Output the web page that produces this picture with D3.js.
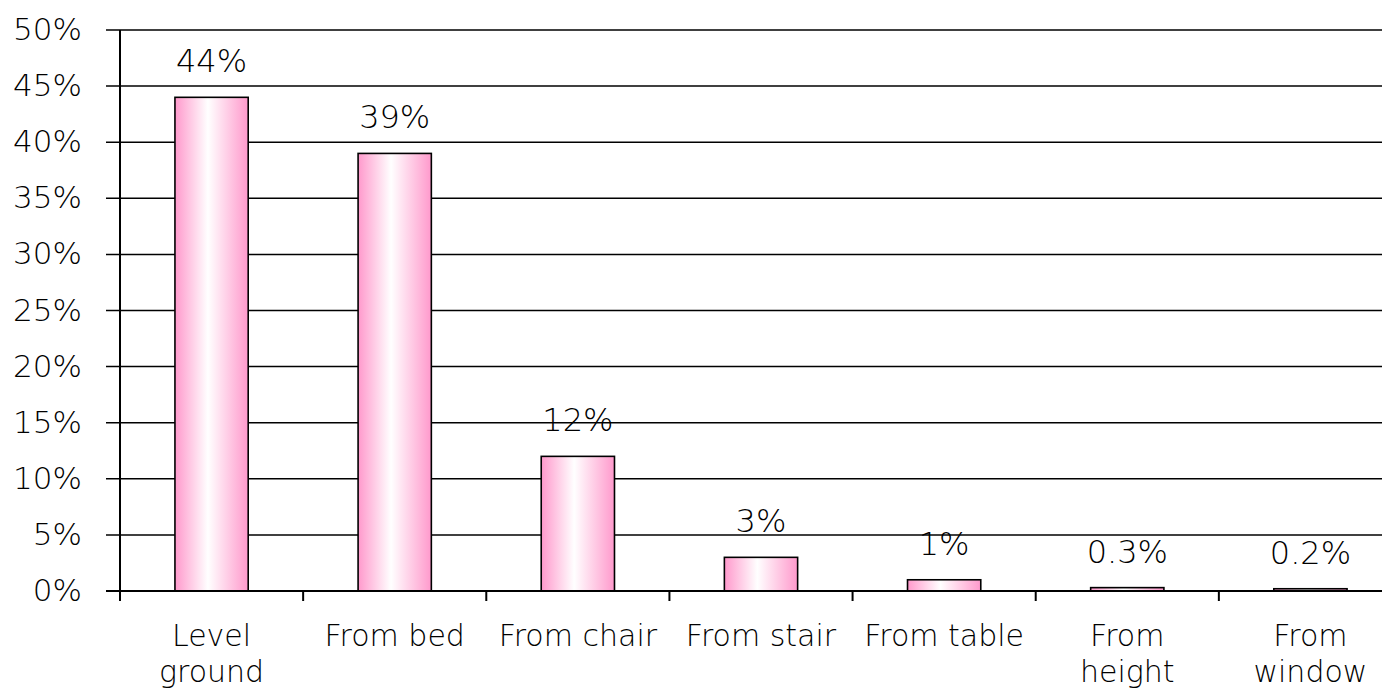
<!DOCTYPE html>
<html lang="en">
<head>
    <meta charset="UTF-8">
    <title>Falls by type</title>
    <script src="https://d3js.org/d3.v7.min.js"></script>
    <style>
        body { margin: 0; background: #fff; }
        text { font-family: "Century Gothic", "DejaVu Sans", sans-serif; font-weight: 200; fill: #000; }
        .grid line { stroke: #000; stroke-width: 1.5px; }
        .bar { stroke: #000; stroke-width: 1.6px; }
    </style>
</head>
<body>
    <svg width="1382" height="688"></svg>

    <script>
        const categories = [["Level", "ground"], ["From bed"], ["From chair"], ["From stair"], ["From table"], ["From", "height"], ["From", "window"]];
        const values = [44, 39, 12, 3, 1, 0.3, 0.2];
        const valueLabels = ["44%", "39%", "12%", "3%", "1%", "0.3%", "0.2%"];
        const yTicks = [0, 5, 10, 15, 20, 25, 30, 35, 40, 45, 50];

        const svg = d3.select("svg");
        const mLeft = 120, mRight = 1402, mTop = 30, mBottom = 591;

        const x = d3.scaleBand()
            .domain(d3.range(values.length))
            .range([mLeft, mRight])
            .paddingInner(0.6)
            .paddingOuter(0.3);
        const y = d3.scaleLinear().domain([0, 50]).range([mBottom, mTop]);

        // gradient pink - white - pink
        const grad = svg.append("defs").append("linearGradient")
            .attr("id", "pinkGrad").attr("x1", "0%").attr("x2", "100%").attr("y1", "0%").attr("y2", "0%");
        grad.append("stop").attr("offset", "0%").attr("stop-color", "#ff99cc");
        grad.append("stop").attr("offset", "45%").attr("stop-color", "#ffffff");
        grad.append("stop").attr("offset", "100%").attr("stop-color", "#ff99cc");

        // gridlines
        svg.append("g").attr("class", "grid")
            .selectAll("line")
            .data(yTicks.filter(d => d > 0))
            .join("line")
            .attr("x1", mLeft - 14).attr("x2", mRight)
            .attr("y1", d => y(d)).attr("y2", d => y(d));

        // y tick labels
        svg.append("g").selectAll("text")
            .data(yTicks)
            .join("text")
            .attr("x", 82)
            .attr("y", d => y(d) + 10)
            .attr("text-anchor", "end")
            .style("font-size", "31px")
            .text(d => d + "%");

        // bars
        svg.selectAll(".bar")
            .data(values)
            .join("rect")
            .attr("class", "bar")
            .attr("x", (d, i) => x(i))
            .attr("width", x.bandwidth())
            .attr("y", d => y(d))
            .attr("height", d => mBottom - y(d))
            .attr("fill", "url(#pinkGrad)");

        // value labels
        svg.selectAll(".val")
            .data(values)
            .join("text")
            .attr("class", "val")
            .attr("x", (d, i) => x(i) + x.bandwidth() / 2)
            .attr("y", d => y(d) - 25)
            .attr("text-anchor", "middle")
            .style("font-size", "32px")
            .text((d, i) => valueLabels[i]);

        // axes lines
        svg.append("line").attr("x1", mLeft).attr("x2", mLeft).attr("y1", mTop).attr("y2", mBottom + 10)
            .attr("stroke", "#000").attr("stroke-width", 2);
        svg.append("line").attr("x1", mLeft - 14).attr("x2", mRight).attr("y1", mBottom).attr("y2", mBottom)
            .attr("stroke", "#000").attr("stroke-width", 2);
        svg.append("g").selectAll("line")
            .data(d3.range(1, values.length + 1))
            .join("line")
            .attr("x1", i => mLeft + i * x.step())
            .attr("x2", i => mLeft + i * x.step())
            .attr("y1", mBottom).attr("y2", mBottom + 10)
            .attr("stroke", "#000").attr("stroke-width", 2);

        // category labels
        svg.selectAll(".cat")
            .data(categories)
            .join("text")
            .attr("class", "cat")
            .attr("x", (d, i) => x(i) + x.bandwidth() / 2)
            .attr("y", 646)
            .attr("text-anchor", "middle")
            .style("font-size", "30px")
            .each(function(d) {
                const t = d3.select(this);
                d.forEach((line, j) => {
                    t.append("tspan")
                        .attr("x", t.attr("x"))
                        .attr("dy", j === 0 ? 0 : 36)
                        .text(line);
                });
            });
    </script>
</body>
</html>
